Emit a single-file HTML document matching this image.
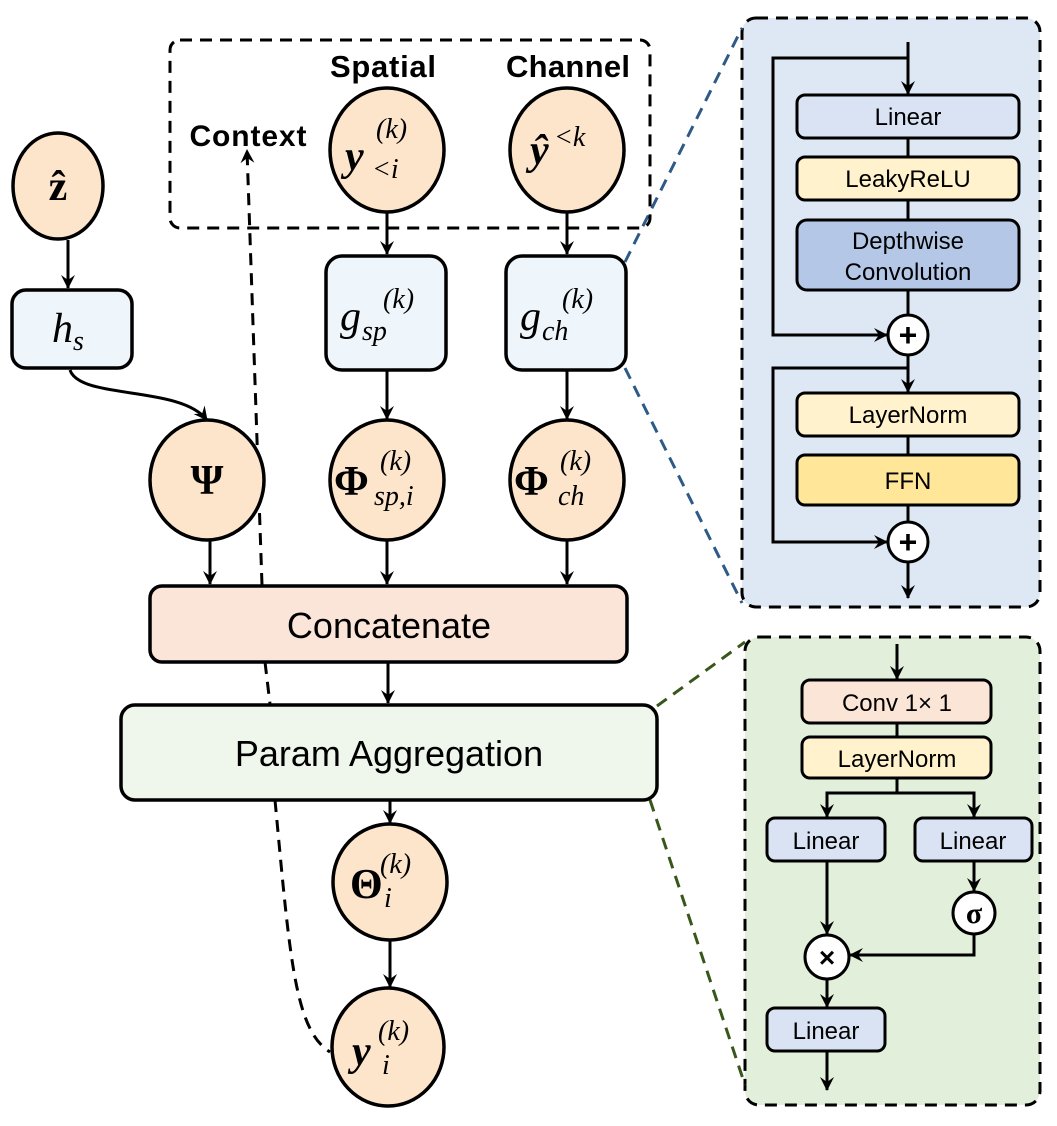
<!DOCTYPE html>
<html><head><meta charset="utf-8"><style>
html,body{margin:0;padding:0;background:#fff;}
svg{display:block;}
.sans{font-family:"Liberation Sans",Arial,sans-serif;}
.ser{font-family:"Liberation Serif","DejaVu Serif",serif;}
</style></head><body>
<svg width="1057" height="1126" viewBox="0 0 1057 1126" xmlns="http://www.w3.org/2000/svg">
<defs>
<marker id="a" viewBox="0 0 14 14" refX="13" refY="7" markerWidth="14" markerHeight="14" markerUnits="userSpaceOnUse" orient="auto">
<path d="M0,0 L14,7 L0,14 L5,7 Z" fill="#000"/></marker>
</defs>
<rect x="742" y="18" width="298" height="589" rx="14" fill="#dde8f4" stroke="#000" stroke-width="3" stroke-dasharray="12,8"/>
<rect x="745" y="637" width="295" height="468" rx="14" fill="#e2efda" stroke="#000" stroke-width="3" stroke-dasharray="12,8"/>
<g stroke="#2e5a87" stroke-width="3" stroke-dasharray="12,8" fill="none">
<line x1="625" y1="262" x2="742" y2="28"/><line x1="625" y1="368" x2="742" y2="603"/></g>
<g stroke="#38571a" stroke-width="3" stroke-dasharray="12,8" fill="none">
<line x1="657" y1="706" x2="745" y2="642"/><line x1="650" y1="800" x2="745" y2="1085"/></g>
<rect x="170" y="40" width="480" height="188" rx="10" fill="none" stroke="#000" stroke-width="3" stroke-dasharray="12,8"/>
<text x="383" y="77" class="sans" font-size="31" font-weight="bold" text-anchor="middle" textLength="106">Spatial</text>
<text x="568" y="77" class="sans" font-size="31" font-weight="bold" text-anchor="middle" textLength="124">Channel</text>
<text x="248" y="146" class="sans" font-size="30" font-weight="bold" text-anchor="middle" textLength="117">Context</text>
<g stroke="#000" stroke-width="3" fill="none" stroke-dasharray="12,8">
<path d="M262 585 L247 150" marker-end="url(#a)"/>
<path d="M265 662 L270 704"/>
<path d="M275 800 C290 960 295 1030 330 1052"/>
</g>
<g stroke="#000" stroke-width="3" fill="none">
<line x1="68" y1="240" x2="68" y2="288" marker-end="url(#a)"/>
<path d="M70 370 C80 400 180 385 207 420" marker-end="url(#a)"/>
<line x1="210" y1="540" x2="210" y2="584" marker-end="url(#a)"/>
<line x1="387" y1="212" x2="387" y2="254" marker-end="url(#a)"/>
<line x1="387" y1="370" x2="387" y2="419" marker-end="url(#a)"/>
<line x1="387" y1="540" x2="387" y2="584" marker-end="url(#a)"/>
<line x1="567" y1="212" x2="567" y2="254" marker-end="url(#a)"/>
<line x1="567" y1="370" x2="567" y2="419" marker-end="url(#a)"/>
<line x1="567" y1="540" x2="567" y2="584" marker-end="url(#a)"/>
<line x1="388" y1="662" x2="388" y2="703" marker-end="url(#a)"/>
<line x1="390" y1="800" x2="390" y2="823" marker-end="url(#a)"/>
<line x1="390" y1="940" x2="390" y2="987" marker-end="url(#a)"/>
</g>
<g stroke="#000" stroke-width="3.5" fill="#fde5cc">
<ellipse cx="58" cy="186" rx="45" ry="53"/>
<ellipse cx="207" cy="480" rx="57" ry="60"/>
<ellipse cx="387" cy="150" rx="57" ry="62"/>
<ellipse cx="567" cy="150" rx="57" ry="62"/>
<ellipse cx="387" cy="480" rx="57" ry="60"/>
<ellipse cx="567" cy="480" rx="57" ry="60"/>
<ellipse cx="390" cy="882" rx="57" ry="58"/>
<ellipse cx="388" cy="1047" rx="56" ry="59"/>
</g>
<g stroke="#000" stroke-width="3.5" fill="#eef5fb">
<rect x="12" y="290" width="120" height="78" rx="14"/>
<rect x="326" y="256" width="120" height="114" rx="16"/>
<rect x="506" y="256" width="120" height="114" rx="16"/>
</g>
<rect x="150" y="586" width="477" height="76" rx="12" fill="#fbe5d9" stroke="#000" stroke-width="3.5"/>
<rect x="121" y="705" width="536" height="95" rx="14" fill="#eff7ec" stroke="#000" stroke-width="3.5"/>
<text x="389" y="638" class="sans" font-size="36" text-anchor="middle">Concatenate</text>
<text x="389" y="766" class="sans" font-size="36" text-anchor="middle">Param Aggregation</text>
<g class="ser" font-size="42">
<text x="58" y="200" text-anchor="middle" font-weight="bold">ẑ</text>
<text x="52" y="342" font-style="italic">h<tspan font-size="28" dy="8">s</tspan></text>
<text x="207" y="494" text-anchor="middle" font-weight="bold">Ψ</text>
<text x="345" y="170" font-weight="bold" font-style="italic">y</text>
<text x="376" y="138" font-size="28" font-style="italic">(k)</text>
<text x="372" y="178" font-size="28" font-style="italic">&lt;i</text>
<text x="530" y="164" font-weight="bold" font-style="italic">ŷ</text>
<text x="554" y="146" font-size="28" font-style="italic">&lt;k</text>
<text x="340" y="330" font-style="italic">g</text>
<text x="383" y="308" font-size="28" font-style="italic">(k)</text>
<text x="362" y="340" font-size="28" font-style="italic">sp</text>
<text x="520" y="330" font-style="italic">g</text>
<text x="562" y="308" font-size="28" font-style="italic">(k)</text>
<text x="542" y="340" font-size="28" font-style="italic">ch</text>
<text x="334" y="495" font-weight="bold">Φ</text>
<text x="380" y="470" font-size="28" font-style="italic">(k)</text>
<text x="374" y="505" font-size="28" font-style="italic">sp,i</text>
<text x="514" y="495" font-weight="bold">Φ</text>
<text x="560" y="470" font-size="28" font-style="italic">(k)</text>
<text x="558" y="505" font-size="28" font-style="italic">ch</text>
<text x="350" y="898" font-weight="bold">Θ</text>
<text x="380" y="873" font-size="28" font-style="italic">(k)</text>
<text x="384" y="907" font-size="28" font-style="italic">i</text>
<text x="352" y="1065" font-weight="bold" font-style="italic">y</text>
<text x="378" y="1040" font-size="28" font-style="italic">(k)</text>
<text x="382" y="1074" font-size="28" font-style="italic">i</text>
</g>
<g stroke="#000" stroke-width="3" fill="none">
<line x1="908" y1="42" x2="908" y2="94" marker-end="url(#a)"/>
<polyline points="908,58 773,58 773,335 887,335" marker-end="url(#a)"/>
<line x1="908" y1="138" x2="908" y2="157"/>
<line x1="908" y1="200" x2="908" y2="220"/>
<line x1="908" y1="290" x2="908" y2="315"/>
<line x1="908" y1="355" x2="908" y2="392" marker-end="url(#a)"/>
<polyline points="908,368 773,368 773,542 887,542" marker-end="url(#a)"/>
<line x1="908" y1="436" x2="908" y2="455"/>
<line x1="908" y1="505" x2="908" y2="522"/>
<line x1="908" y1="562" x2="908" y2="598" marker-end="url(#a)"/>
</g>
<g stroke="#000" stroke-width="3">
<rect x="797" y="95" width="222" height="43" rx="8" fill="#dae3f3"/>
<rect x="797" y="157" width="222" height="43" rx="8" fill="#fff2cc"/>
<rect x="797" y="220" width="222" height="70" rx="10" fill="#b4c7e7"/>
<rect x="797" y="393" width="222" height="43" rx="8" fill="#fff2cc"/>
<rect x="797" y="455" width="222" height="50" rx="8" fill="#ffe699"/>
<circle cx="908" cy="335" r="20" fill="#fff"/>
<circle cx="908" cy="542" r="20" fill="#fff"/>
</g>
<g class="sans" font-size="24" text-anchor="middle">
<text x="908" y="125">Linear</text>
<text x="908" y="187">LeakyReLU</text>
<text x="908" y="249">Depthwise</text>
<text x="908" y="280">Convolution</text>
<text x="908" y="423">LayerNorm</text>
<text x="908" y="489">FFN</text>
<text x="908" y="346" font-size="32" font-weight="bold">+</text>
<text x="908" y="553" font-size="32" font-weight="bold">+</text>
</g>
<g stroke="#000" stroke-width="3" fill="none">
<line x1="897" y1="644" x2="897" y2="679" marker-end="url(#a)"/>
<line x1="897" y1="723" x2="897" y2="737"/>
<polyline points="897,778 897,793 827,793 827,817" marker-end="url(#a)"/>
<polyline points="897,793 974,793 974,817" marker-end="url(#a)"/>
<line x1="974" y1="861" x2="974" y2="891" marker-end="url(#a)"/>
<polyline points="974,934 974,955 850,955" marker-end="url(#a)"/>
<line x1="827" y1="861" x2="827" y2="934" marker-end="url(#a)"/>
<line x1="827" y1="979" x2="827" y2="1007" marker-end="url(#a)"/>
<line x1="827" y1="1051" x2="827" y2="1090" marker-end="url(#a)"/>
</g>
<g stroke="#000" stroke-width="3">
<rect x="802" y="680" width="189" height="43" rx="8" fill="#fbe5d6"/>
<rect x="802" y="737" width="189" height="41" rx="8" fill="#fff2cc"/>
<rect x="767" y="818" width="118" height="43" rx="8" fill="#dae3f3"/>
<rect x="915" y="818" width="117" height="43" rx="8" fill="#dae3f3"/>
<rect x="767" y="1008" width="118" height="43" rx="8" fill="#dae3f3"/>
<circle cx="974" cy="913" r="21" fill="#fff"/>
<circle cx="827" cy="957" r="22" fill="#fff"/>
</g>
<g class="sans" font-size="24" text-anchor="middle">
<text x="897" y="711">Conv 1× 1</text>
<text x="897" y="767">LayerNorm</text>
<text x="826" y="849">Linear</text>
<text x="973" y="849">Linear</text>
<text x="826" y="1039">Linear</text>
<text x="827" y="967" font-size="28" font-weight="bold">×</text>
</g>
<text x="974" y="923" class="ser" font-size="30" font-weight="bold" text-anchor="middle">σ</text>
</svg>
</body></html>
